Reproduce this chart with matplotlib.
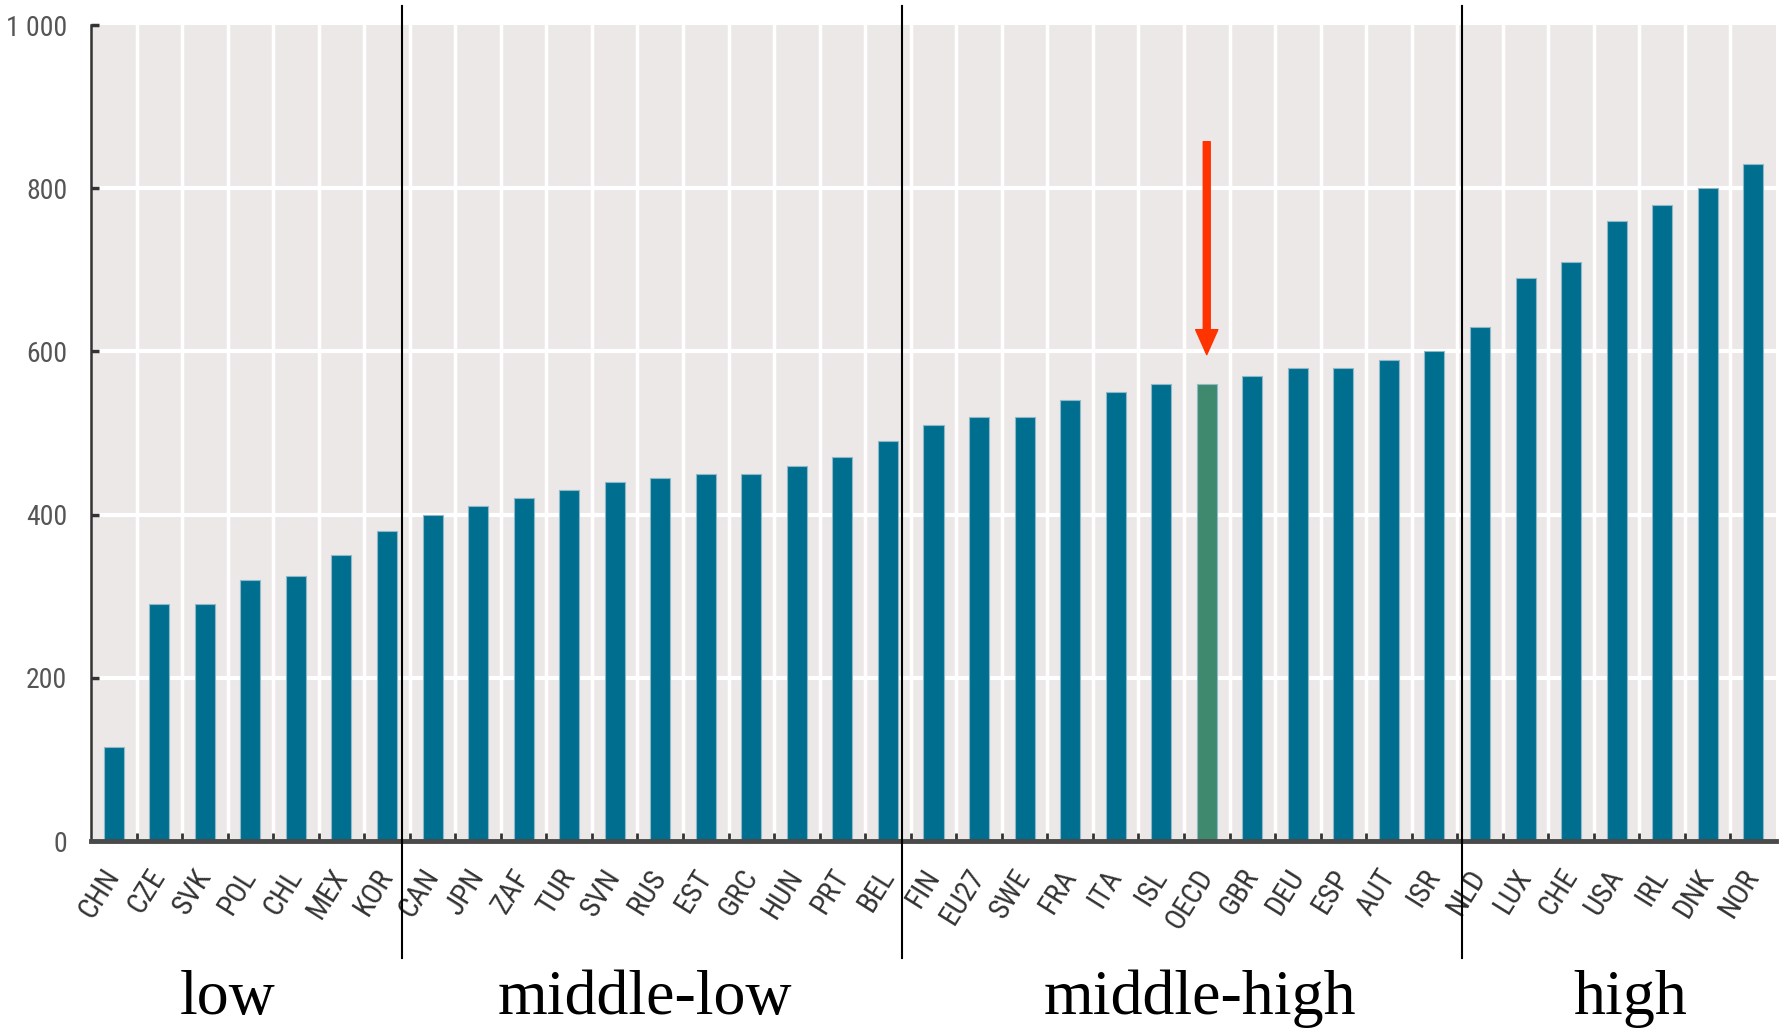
import matplotlib
matplotlib.use("Agg")
import matplotlib.pyplot as plt
from matplotlib.transforms import blended_transform_factory
from matplotlib import font_manager
import numpy as np

countries = ["CHN", "CZE", "SVK", "POL", "CHL", "MEX", "KOR",
             "CAN", "JPN", "ZAF", "TUR", "SVN", "RUS", "EST", "GRC", "HUN", "PRT", "BEL",
             "FIN", "EU27", "SWE", "FRA", "ITA", "ISL", "OECD", "GBR", "DEU", "ESP", "AUT", "ISR",
             "NLD", "LUX", "CHE", "USA", "IRL", "DNK", "NOR"]
values = [115, 290, 290, 320, 325, 350, 380,
          400, 410, 420, 430, 440, 445, 450, 450, 460, 470, 490,
          510, 520, 520, 540, 550, 560, 560, 570, 580, 580, 590, 600,
          630, 690, 710, 760, 780, 800, 830]
highlight = "OECD"
group_names = ["low", "middle-low", "middle-high", "high"]
group_label_x = [2.5, 11.67, 23.86, 33.3]
group_separators = [6.34, 17.3, 29.6]
yticks = [0, 200, 400, 600, 800, 1000]
ytick_labels = ["0", "200", "400", "600", "800", "1 000"]

names = {f.name for f in font_manager.fontManager.ttflist}
narrow = None
for cand in ["Liberation Sans Narrow", "DejaVu Sans Condensed", "Roboto Condensed",
             "Open Sans Condensed"]:
    if cand in names:
        narrow = cand
        break
if narrow is None:
    narrow = "DejaVu Sans"

W, H = 1782, 1029
fig = plt.figure(figsize=(W / 100, H / 100), dpi=100)
ax = fig.add_axes([91 / W, 1 - 841 / H, (1776 - 91) / W, (841 - 25) / H])

bg = "#ECE8E7"
ax.set_facecolor(bg)
x = np.arange(len(countries))
colors = ["#3F8A6E" if c == highlight else "#006E8F" for c in countries]
ax.bar(x, values, width=0.44, color=colors, edgecolor="#8FB8C8", linewidth=0.8, zorder=3)

ax.set_xlim(-0.5, len(countries) - 0.5)
ax.set_ylim(0, 1000)

for v in yticks[1:-1]:
    ax.axhline(v, color="white", lw=3, zorder=1)
for k in range(len(countries) - 1):
    ax.axvline(k + 0.5, color="white", lw=2.5, zorder=1)

for s in ["top", "right"]:
    ax.spines[s].set_visible(False)
ax.spines["left"].set_color("#333333")
ax.spines["left"].set_linewidth(1.8)
ax.spines["bottom"].set_color("#4A4A4A")
ax.spines["bottom"].set_linewidth(3.5)
ax.spines["bottom"].set_zorder(5)

ax.set_yticks(yticks)
ax.set_yticklabels(ytick_labels)
ysize = 20 if narrow != "DejaVu Sans" else 16
ax.tick_params(axis="y", direction="in", length=6, width=2.5, color="#333333",
               pad=17, labelsize=ysize, labelcolor="#555555")
for lab in ax.get_yticklabels():
    lab.set_family([narrow, "DejaVu Sans"])
    lab.set_fontstretch("condensed")

ax.set_xticks(x)
xsize = 21 if narrow != "DejaVu Sans" else 17
ax.set_xticklabels(countries, rotation=58, ha="right", va="center",
                   rotation_mode="anchor",
                   fontsize=xsize, color="#333333",
                   family=[narrow, "DejaVu Sans"], fontstretch="condensed")
ax.tick_params(axis="x", which="major", length=0, pad=22)
ax.set_xticks(x[:-1] + 0.5, minor=True)
ax.tick_params(axis="x", which="minor", direction="in", length=6, width=2, color="#333333")

oi = countries.index(highlight)
ax.annotate("", xy=(oi, 596), xytext=(oi, 857),
            arrowprops=dict(width=5, headwidth=16, headlength=18, color="#FF3300",
                            shrink=0), zorder=6)

trans = blended_transform_factory(ax.transData, fig.transFigure)
for sx in group_separators:
    ax.plot([sx, sx], [1 - 6 / H, 1 - 958 / H], transform=trans, color="black",
            lw=1.5, clip_on=False, zorder=7)
for name, gx in zip(group_names, group_label_x):
    ax.text(gx, 1 - 1014 / H, name, transform=trans, ha="center", va="baseline",
            fontsize=46, family="Liberation Serif", color="black")

fig.savefig("out.png", dpi=100)
